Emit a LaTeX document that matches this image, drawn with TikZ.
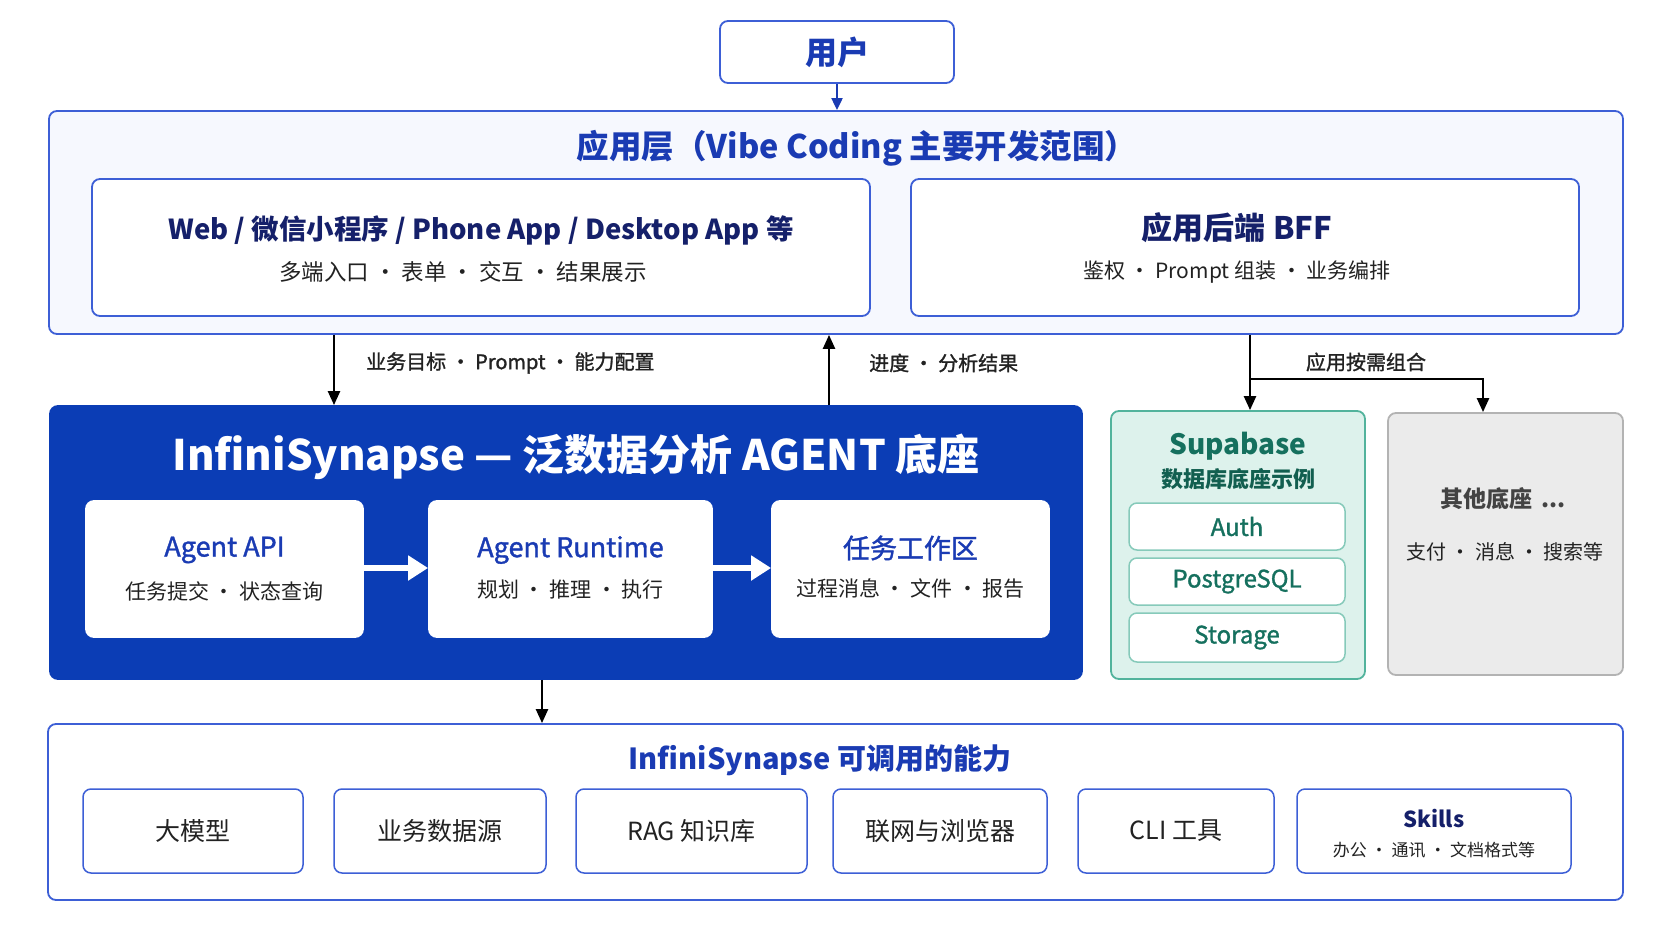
\documentclass[tikz,border=0pt]{standalone}
\usepackage{fontspec}
\setmainfont{Noto Sans CJK SC}
\newfontfamily\medf{Noto Sans CJK SC}[FakeBold=1.3]
\usetikzlibrary{arrows.meta}
\newcommand\fsz[1]{\fontsize{#1}{#1}\selectfont}
\definecolor{bord}{HTML}{3D5FD6}
\definecolor{appfill}{HTML}{F6F8FE}
\definecolor{ttl}{HTML}{1A3BB3}
\definecolor{navy}{HTML}{15206A}
\definecolor{agentblue}{HTML}{0B3DB5}
\definecolor{tealb}{HTML}{52B39C}
\definecolor{tealf}{HTML}{DDF2EC}
\definecolor{tealt}{HTML}{15705E}
\definecolor{grayf}{HTML}{EBEBEB}
\definecolor{grayb}{HTML}{B3B3B3}
\definecolor{txt}{HTML}{222222}
\begin{document}
\begin{tikzpicture}[x=1pt,y=-1pt,
  box/.style={rounded corners=8pt, inner sep=0pt, line width=1.8pt},
  bluebox/.style={box, draw=bord, fill=white},
  arr/.style={line width=2.4pt, -{Triangle[length=14pt,width=12pt]}},
  warr/.style={line width=6pt, white, -{Triangle[length=20pt,width=24pt]}},
  lbl/.style={font=\medf\fsz{20}, text=txt, inner sep=0pt},
  sub/.style={font=\fsz{21}, text=txt, inner sep=0pt},
  navyt/.style={font=\fsz{28}\bfseries, text=navy, inner sep=0pt},
  agt/.style={font=\medf\fsz{27}, text=ttl, inner sep=0pt},
  capb/.style={bluebox, line width=1.5pt, minimum height=84pt},
  capt/.style={font=\fsz{25}, text=txt, inner sep=0pt},
  tealbox/.style={box, draw=tealb!70, line width=1.5pt, fill=white, minimum width=216pt},
  tealtxt/.style={font=\medf\fsz{24}, text=tealt, inner sep=0pt}
]
\useasboundingbox[fill=white] (0,0) rectangle (1672,941);

% user
\node[bluebox, minimum width=234pt, minimum height=62pt, font=\fsz{32}\bfseries, text=ttl] (user) at (837,52) {用户};

% application layer
\node[box, draw=bord, fill=appfill, minimum width=1574pt, minimum height=223pt] (app) at (836,222.5) {};
\node[font=\fsz{32.5}\bfseries, text=ttl, inner sep=0pt] (apptitle) at (857,148) {应用层（Vibe Coding 主要开发范围）};
\node[bluebox, minimum width=778pt, minimum height=137pt] (web) at (481,247.5) {};
\node[navyt, font=\fsz{27.5}\bfseries] (webt) at (481,230) {Web / 微信小程序 / Phone App / Desktop App 等};
\node[sub, font=\fsz{22.5}] (webs) at (463,272) {多端入口 · 表单 · 交互 · 结果展示};
\node[bluebox, minimum width=668pt, minimum height=137pt] (bff) at (1245,247.5) {};
\node[navyt, font=\fsz{31}\bfseries] (bfft) at (1237,228) {应用后端 BFF};
\node[sub] (bffs) at (1237,272) {鉴权 · Prompt 组装 · 业务编排};

\draw[arr, draw=ttl, line width=2pt, -{Triangle[length=12pt,width=11pt]}] (user) -- (app.north -| user);

% agent block
\node[box, draw=agentblue, fill=agentblue, minimum width=1032pt, minimum height=273pt] (agent) at (566,542.5) {};
\node[font=\fsz{42}\bfseries, text=white, inner sep=0pt] (agt) at (576,457) {InfiniSynapse — 泛数据分析 AGENT 底座};
\node[box, draw=white, fill=white, minimum width=277pt, minimum height=136pt] (api) at (224.5,569) {};
\node[agt] (apit) at (224.5,550) {Agent API};
\node[sub] (apis) at (224.5,591) {任务提交 · 状态查询};
\node[box, draw=white, fill=white, minimum width=283pt, minimum height=136pt] (rt) at (570.5,569) {};
\node[agt] (rtt) at (570.5,550) {Agent Runtime};
\node[sub] (rts) at (570.5,590) {规划 · 推理 · 执行};
\node[box, draw=white, fill=white, minimum width=277pt, minimum height=136pt] (ws) at (910.5,569) {};
\node[agt] (wst) at (910.5,548) {任务工作区};
\node[sub] (wss) at (910.5,589) {过程消息 · 文件 · 报告};
\draw[warr] (api.east |- 0,568) -- (rt.west |- 0,568);
\draw[warr] (rt.east |- 0,568) -- (ws.west |- 0,568);

% arrows app <-> agent
\coordinate (xa) at (334,0);
\coordinate (xb) at (829,0);
\coordinate (xc) at (1250,0);
\coordinate (xd) at (1483,0);
\coordinate (br) at (1250,379);
\draw[arr] (app.south -| xa) -- (agent.north -| xa);
\draw[arr] (agent.north -| xb) -- (app.south -| xb);
\node[lbl, anchor=west] (l1) at (366,363) {业务目标 · Prompt · 能力配置};
\node[lbl, anchor=west] (l2) at (869,363) {进度 · 分析结果};

% supabase
\node[box, draw=tealb, fill=tealf, minimum width=254pt, minimum height=268pt] (supa) at (1238,545) {};
\node[font=\fsz{28}\bfseries, text=tealt, inner sep=0pt] (supat) at (1238,446) {Supabase};
\node[font=\fsz{22}\bfseries, text=tealt!85!black, inner sep=0pt] (supas) at (1238,479) {数据库底座示例};
\node[tealbox, minimum height=47pt] (auth) at (1237,526.5) {};
\node[tealtxt] at (auth) {Auth};
\node[tealbox, minimum height=47pt] (pg) at (1237,581.5) {};
\node[tealtxt] at (pg) {PostgreSQL};
\node[tealbox, minimum height=49pt] (st) at (1237,637.5) {};
\node[tealtxt] at (st) {Storage};

% other
\node[box, draw=grayb, fill=grayf, minimum width=235pt, minimum height=262pt] (other) at (1505.5,544) {};
\node[font=\fsz{23}\bfseries, text=txt!85, inner sep=0pt] (othert) at (1503,499) {其他底座 \,...};
\node[font=\fsz{20}, text=txt, inner sep=0pt] (others) at (1505,552) {支付 · 消息 · 搜索等};

\draw[arr] (app.south -| xc) -- (supa.north -| xc);
\draw[arr] (br) -| (other.north -| xd);
\node[lbl] (l3) at (1366,362) {应用按需组合};

% capabilities
\node[box, draw=bord, fill=white, minimum width=1575pt, minimum height=176pt] (cap) at (835.5,812) {};
\node[font=\fsz{29}\bfseries, text=ttl, inner sep=0pt] (capt) at (820,760) {InfiniSynapse 可调用的能力};
\coordinate (xe) at (542,0);
\draw[arr] (agent.south -| xe) -- (cap.north -| xe);

\node[capb, minimum width=220pt] (c1) at (193,831) {};
\node[capt] at (c1) {大模型};
\node[capb, minimum width=212pt] (c2) at (440,831) {};
\node[capt] at (c2) {业务数据源};
\node[capb, minimum width=231pt] (c3) at (691.5,831) {};
\node[capt] at (c3) {RAG 知识库};
\node[capb, minimum width=214pt] (c4) at (940,831) {};
\node[capt] at (c4) {联网与浏览器};
\node[capb, minimum width=196pt] (c5) at (1176,831) {};
\node[capt] at (c5) {CLI 工具};
\node[capb, minimum width=274pt] (c6) at (1434,831) {};
\node[font=\fsz{22}\bfseries, text=navy, inner sep=0pt] (c6t) at (1434,819) {Skills};
\node[font=\fsz{17}, text=txt, inner sep=0pt] (c6s) at (1434,850) {办公 · 通讯 · 文档格式等};
\end{tikzpicture}
\end{document}
